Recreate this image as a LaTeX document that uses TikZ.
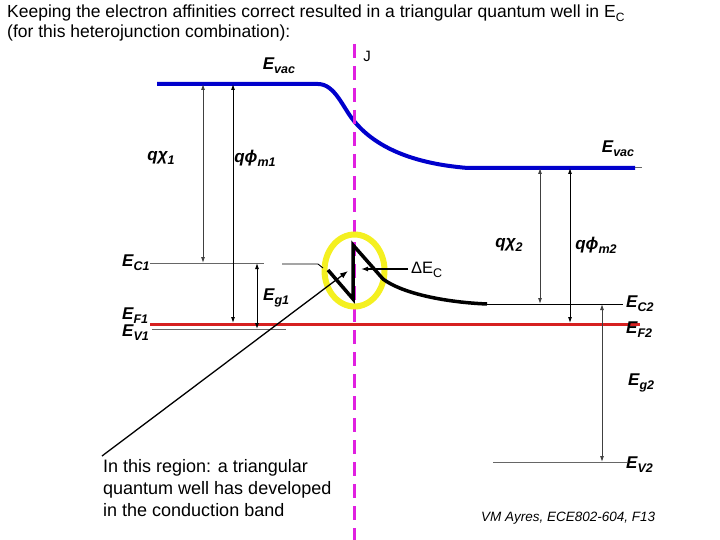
\documentclass[tikz,border=0pt]{standalone}
\usepackage{fontspec}
\setmainfont{Liberation Sans}
\usetikzlibrary{arrows.meta,shapes.geometric}
\definecolor{vacblue}{RGB}{0,0,204}
\definecolor{fred}{RGB}{214,32,32}
\definecolor{jmag}{RGB}{224,32,224}
\definecolor{hlyel}{RGB}{244,240,32}
\newcommand\sbx[1]{\raisebox{-0.45ex}{\fontsize{12.5}{12.5}\selectfont #1}}
\begin{document}
\begin{tikzpicture}[x=1pt,y=-1pt,
  lvl/.style={draw=black!60, line width=1pt},
  lvlk/.style={draw=black, line width=1pt},
  dim/.style={draw=black!75, line width=0.9pt, {Latex[length=6pt,width=4pt]}-{Latex[length=6pt,width=4pt]}},
  lbl/.style={font=\fontsize{17}{17}\selectfont\bfseries\itshape, inner sep=0pt},
  txt/.style={font=\fontsize{17.5}{19.5}\selectfont, inner sep=0pt, align=left},
  vac/.style={draw=vacblue, line width=4pt},
  band/.style={draw=black, line width=3.5pt, line join=miter},
  jn/.style={draw=jmag, line width=3pt, dash pattern=on 14pt off 8pt}]
\useasboundingbox (0,0) rectangle (720,540);
% title
\node[txt, anchor=north west] (title) at (7,5) {Keeping the electron affinities correct resulted in a triangular quantum well in E\raisebox{-0.4ex}{\fontsize{12}{12}\selectfont C}\\(for this heterojunction combination):};
% vacuum level
\coordinate (vacL) at (157,84);
\coordinate (vacA) at (318,84);
\coordinate (vacM) at (354,121);
\coordinate (vacB) at (468,168);
\coordinate (vacR) at (635,168);
\coordinate (vacT) at (642,168);
\draw[vac] (vacL) -- (vacA) .. controls (335,84) and (343,108) .. (vacM)
  .. controls (372,143) and (405,163) .. (vacB) -- (vacR);
\draw[lvl] (vacR) -- (vacT);
% junction
\coordinate (jtop) at (354,44);
\coordinate (jbot) at (354,540);
\draw[jn] (jtop) -- (jbot);
\node[font=\fontsize{15}{15}\selectfont, inner sep=0pt] (J) at (367,56) {J};
% highlight
\node[draw=hlyel, line width=6pt, ellipse, minimum width=60pt, minimum height=72pt, inner sep=0pt] (hl) at (354.5,270.5) {};
% level lines
\coordinate (ec1a) at (150,263); \coordinate (ec1b) at (264,263);
\coordinate (ev1a) at (152,329); \coordinate (ev1b) at (286,329);
\coordinate (efa) at (150,324); \coordinate (efb) at (640,324);
\coordinate (ec2a) at (487,304); \coordinate (ec2b) at (623,304);
\coordinate (ev2a) at (493,462); \coordinate (ev2b) at (627,462);
\draw[lvl] (ec1a) -- (ec1b);
\draw[lvl] (ev1a) -- (ev1b);
\draw[lvlk] (ec2a) -- (ec2b);
\draw[lvl] (ev2a) -- (ev2b);
\draw[draw=fred, line width=3pt] (efa) -- (efb);
% conduction band at junction
\coordinate (cb0) at (328,270);
\coordinate (cb1) at (353,299);
\coordinate (cb2) at (353,245);
\coordinate (cb3) at (383,279);
\draw[band] (cb0) -- (cb1) -- (cb2) -- (cb3) .. controls (400,292) and (440,302) .. (ec2a);
% small lead-in line
\coordinate (li0) at (282,264); \coordinate (li1) at (318,264); \coordinate (li2) at (323,268);
\draw[lvlk, line width=0.9pt] (li0) -- (li1) -- (li2);
% dimension arrows
\coordinate (a1t) at (203,84);  \coordinate (a1b) at (203,263);
\coordinate (a2t) at (233,84);  \coordinate (a2b) at (233,323);
\coordinate (g1t) at (257,263); \coordinate (g1b) at (257,329);
\coordinate (a3t) at (540,168); \coordinate (a3b) at (540,304);
\coordinate (a4t) at (570,168); \coordinate (a4b) at (570,323);
\coordinate (g2t) at (602,304); \coordinate (g2b) at (602,462);
\draw[dim] (a1t) -- (a1b);
\draw[dim, draw=black] (a2t) -- (a2b);
\draw[dim, draw=black] (g1t) -- (g1b);
\draw[dim] (a3t) -- (a3b);
\draw[dim, draw=black] (a4t) -- (a4b);
\draw[dim] (g2t) -- (g2b);
% delta Ec
\coordinate (de0) at (408,269); \coordinate (de1) at (361,269);
\draw[draw=black, line width=1.3pt, -{Latex[length=7pt,width=5pt]}] (de0) -- (de1);
\node[font=\fontsize{16.5}{16.5}\selectfont, inner sep=0pt, anchor=west] (dEc) at (411,270) {ΔE\raisebox{-0.4ex}{\fontsize{12.5}{12.5}\selectfont C}};
% pointer
\coordinate (p0) at (102,456); \coordinate (p1) at (348,271);
\draw[draw=black, line width=1.3pt, -{Latex[length=8pt,width=6pt]}] (p0) -- (p1);
% labels
\node[lbl] (ev1) at (279,66) {E\sbx{vac}};
\node[lbl] (ev2) at (618,149) {E\sbx{vac}};
\node[lbl] (qx1) at (161,158) {qχ\sbx{1}};
\node[lbl] (qp1) at (255,158) {qϕ\sbx{m1}};
\node[lbl] (qx2) at (509,245) {qχ\sbx{2}};
\node[lbl] (qp2) at (596,245) {qϕ\sbx{m2}};
\node[lbl, anchor=west] (lec1) at (122,263) {E\sbx{C1}};
\node[lbl, anchor=west] (lef1) at (122,316) {E\sbx{F1}};
\node[lbl, anchor=west] (lev1) at (122,333) {E\sbx{V1}};
\node[lbl, anchor=west] (leg1) at (263,298) {E\sbx{g1}};
\node[lbl, anchor=west] (lec2) at (626,304) {E\sbx{C2}};
\node[lbl, anchor=west] (lef2) at (626,330) {E\sbx{F2}};
\node[lbl, anchor=west] (leg2) at (628,383) {E\sbx{g2}};
\node[lbl, anchor=west] (lev2) at (626,465) {E\sbx{V2}};
% note
\node[txt, anchor=north west, font=\fontsize{18}{22}\selectfont] (note) at (103,459) {In this region: a triangular\\quantum well has developed\\in the conduction band};
\node[font=\fontsize{13.5}{13.5}\selectfont\itshape, inner sep=0pt, anchor=west] (credit) at (481,518) {VM Ayres, ECE802-604, F13};
\end{tikzpicture}
\end{document}
